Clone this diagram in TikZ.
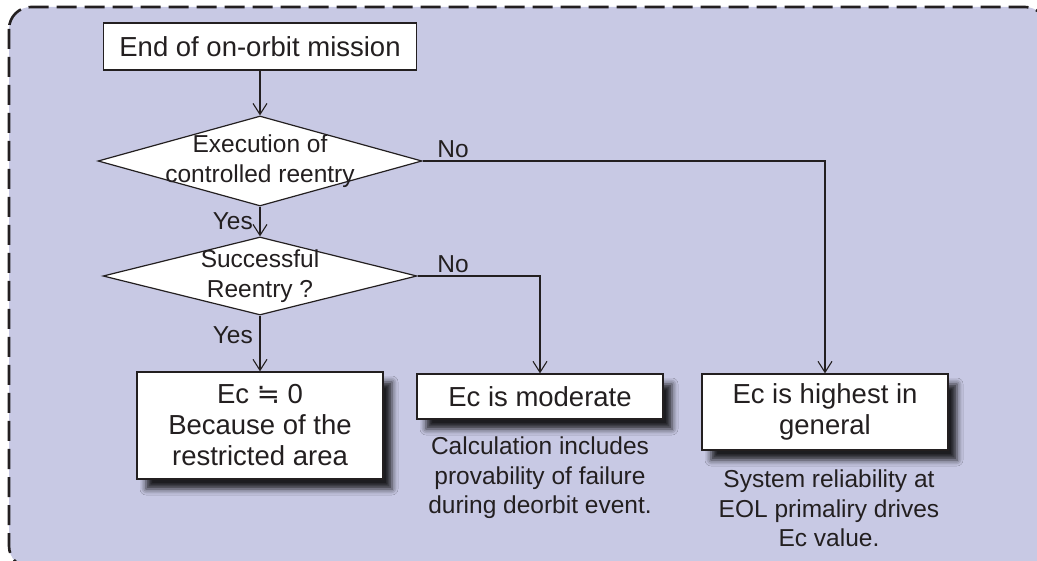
\documentclass[tikz,border=0pt]{standalone}
\usepackage{fontspec}
\setmainfont{Liberation Sans}
\newfontfamily\symfont{DejaVu Sans}
\usepackage{tikz}
\usetikzlibrary{shapes.geometric,arrows.meta,shadows.blur}
\definecolor{panel}{RGB}{200,201,228}
\definecolor{ink}{RGB}{35,31,32}
\tikzset{
  flowbox/.style={draw=ink, line width=1.3pt, fill=white, text=ink, align=center, inner sep=0pt, font=\fontsize{27.5}{31}\selectfont},
  boxshadow/.style={blur shadow={shadow xshift=9pt, shadow yshift=-10pt, shadow blur radius=6pt, shadow opacity=85}},
  decision/.style={diamond, draw=ink, line width=1.2pt, fill=white, inner sep=0pt},
  lbl/.style={text=ink, font=\fontsize{24.5}{29.5}\selectfont, align=center, inner sep=0pt},
  flowarrow/.style={draw=ink, line width=1.1pt, -{Straight Barb[length=11pt, width=14pt, line width=1.1pt]}}
}

\begin{document}
\begin{tikzpicture}[x=1pt, y=-1pt]
  \useasboundingbox (0,0) rectangle (1037,561);
  \begin{scope}
    \clip (0,0) rectangle (1037,561);
    \draw[ink, fill=panel, line width=2.6pt, dash pattern=on 20pt off 8pt, rounded corners=22pt] (9,7) rectangle (1047,568);
  \end{scope}

  \node[flowbox, minimum width=313pt, minimum height=47pt] (mission) at (260,46.5) {End of on-orbit mission};
  \node[decision, minimum width=324pt, minimum height=90pt, label={[lbl]center:Execution of\\controlled reentry}] (ctrl) at (260,161) {};
  \node[decision, minimum width=314pt, minimum height=78pt, label={[lbl]center:Successful\\Reentry ?}] (succ) at (260,276) {};
  \node[flowbox, boxshadow, minimum width=246pt, minimum height=107pt] (nearzero) at (260,425.5) {Ec {\symfont ≒} 0\\Because of the\\restricted area};
  \node[flowbox, boxshadow, minimum width=246pt, minimum height=45pt] (moderate) at (540,396.5) {Ec is moderate};
  \node[flowbox, boxshadow, minimum width=246pt, minimum height=76pt] (highest) at (825,412) {Ec is highest in\\general};

  \node[lbl] (no1) at (453,149) {No};
  \node[lbl] (no2) at (453,264) {No};
  \node[lbl, anchor=east] (yes1) at (253,221.5) {Yes};
  \node[lbl, anchor=east] (yes2) at (253,335.5) {Yes};
  \node[lbl, anchor=north] (modnote) at (540,437) {Calculation includes\\provability of failure\\during deorbit event.};
  \node[lbl, anchor=north] (highnote) at (829,470) {System reliability at\\EOL primaliry drives\\Ec value.};

  \draw[flowarrow] (mission) -- (ctrl);
  \draw[flowarrow] (ctrl) -- (succ);
  \draw[flowarrow] (succ) -- (nearzero);
  \draw[flowarrow] (succ.east) -| (moderate.north);
  \draw[flowarrow] (ctrl.east) -| (highest.north);
\end{tikzpicture}
\end{document}
